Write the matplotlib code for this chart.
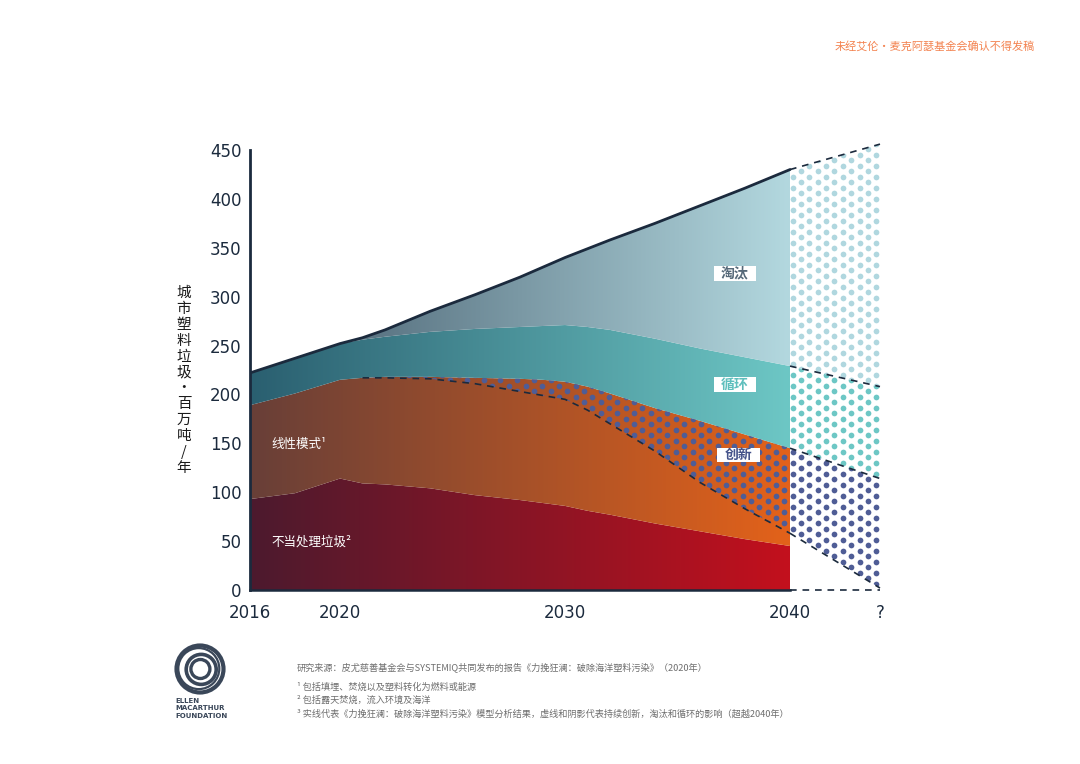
import numpy as np
import matplotlib.pyplot as plt
from matplotlib.colors import LinearSegmentedColormap
from matplotlib.path import Path
from matplotlib.patches import Circle, Rectangle

plt.rcParams['font.family'] = ['Noto Sans CJK SC', 'DejaVu Sans']

# values (million tonnes / year)
years = [2016, 2018, 2020, 2021, 2022, 2024, 2026, 2028, 2029, 2030, 2031, 2032, 2034, 2036, 2038, 2040]
mismanaged = [93, 99, 114, 109, 108, 104, 97, 92, 89, 86, 81, 77, 68, 60, 52, 45]
linear = [189, 201, 215, 217, 217, 216, 211, 203, 199, 195, 184, 170, 142, 110, 83, 58]
innovation = [189, 201, 215, 217, 218, 218, 217, 216, 215, 213, 208, 201, 186, 173, 159, 145]
recycle = [222, 237, 252, 256, 259, 264, 267, 269, 270, 271, 269, 266, 257, 247, 238, 229]
total = [222, 237, 252, 258, 266, 285, 302, 320, 330, 340, 349, 358, 375, 393, 411, 430]

# beyond 2040 (dashed projection)
ext_years = [2040, 2044]
ext_total = [430, 456]
ext_recycle = [229, 208]
ext_innovation = [145, 114]
ext_linear = [58, 2]

y_ticks = [0, 50, 100, 150, 200, 250, 300, 350, 400, 450]
x_ticks = [2016, 2020, 2030, 2040, 2044]
x_tick_labels = ['2016', '2020', '2030', '2040', '?']

navy = '#1b2a3d'
W, H = 1080, 764


def band(x, lo, hi):
    x = np.asarray(x, float)
    lo = np.broadcast_to(np.asarray(lo, float), x.shape)
    hi = np.broadcast_to(np.asarray(hi, float), x.shape)
    verts = np.concatenate([np.column_stack([x, hi]),
                            np.column_stack([x[::-1], lo[::-1]])])
    verts = np.vstack([verts, verts[:1]])
    return Path(verts, closed=True)


def px(x, y):
    return x / W, 1 - y / H


fig = plt.figure(figsize=(10.8, 7.64), dpi=100)
x_left, x_right = 2016, 2045
ax = fig.add_axes([250 / W, 1 - 590 / H, (x_right - x_left) * 22.5 / W, 440 / H])

# gradient filled layers
grad = np.linspace(0, 1, 256).reshape(1, -1)
layers = [
    (0, mismanaged, ['#4c1a2e', '#c3101d']),
    (mismanaged, innovation, ['#683f38', '#e3621a']),
    (innovation, recycle, ['#2a5f70', '#6dc7c5']),
    (recycle, total, ['#42596a', '#b3d8df']),
]
for lo, hi, cols in layers:
    cmap = LinearSegmentedColormap.from_list('g', cols)
    im = ax.imshow(grad, extent=[2016, 2040, 0, 460], aspect='auto',
                   cmap=cmap, origin='lower', zorder=1, interpolation='bicubic')
    im.set_clip_path(band(years, lo, hi), ax.transData)

# dot texture
dx, dy = 16.7 / 22.5, 5.5 / 0.978
gx, gy = [], []
for k in range(90):
    xs = np.arange(2016 + (k % 2) * dx / 2, 2045, dx)
    gx.append(xs)
    gy.append(np.full(xs.shape, k * dy + 1))
gx = np.concatenate(gx)
gy = np.concatenate(gy)

dots = [
    (band(years, linear, innovation), '#4f5d96'),
    (band(ext_years, ext_linear, ext_innovation), '#4f5d96'),
    (band(ext_years, ext_innovation, ext_recycle), '#6dc7c5'),
    (band(ext_years, ext_recycle, ext_total), '#b0d7df'),
]
for path, col in dots:
    sc = ax.scatter(gx, gy, s=17, c=col, linewidths=0, zorder=2)
    sc.set_clip_path(path, ax.transData)

# lines
ax.plot(years, total, color=navy, lw=2, zorder=5, solid_capstyle='round')
ax.plot(years[3:], linear[3:], color=navy, lw=1.2, dashes=(4, 3.5), zorder=5)
for ys in [ext_total, ext_recycle, ext_innovation, ext_linear, [0, 0]]:
    ax.plot(ext_years, ys, color=navy, lw=1.2, dashes=(4, 3.5), zorder=5, clip_on=False)
ax.plot([2016, 2040], [0, 0], color=navy, lw=1.8, zorder=5, clip_on=False)

ax.set_xlim(x_left, x_right)
ax.set_ylim(0, 450)
for s in ['top', 'right', 'bottom']:
    ax.spines[s].set_visible(False)
ax.spines['left'].set_color(navy)
ax.spines['left'].set_linewidth(2)
ax.set_yticks(y_ticks)
ax.set_xticks(x_ticks, x_tick_labels)
ax.tick_params(length=0, labelsize=12, colors=navy)
ax.tick_params(axis='x', pad=10)
ax.tick_params(axis='y', pad=6)
for lab in ax.get_xticklabels() + ax.get_yticklabels():
    lab.set_fontfamily('DejaVu Sans')
ax.patch.set_alpha(0)

# area labels
ax.text(2016.95, 149, '线性模式¹', color='white', fontsize=9, va='center', zorder=6)
ax.text(2016.95, 49, '不当处理垃圾²', color='white', fontsize=9, va='center', zorder=6)
for (cx, cy, txt, col) in [(2037.55, 324, '淘汰', '#566979'),
                           (2037.55, 210, '循环', '#5fbfbd'),
                           (2037.7, 138, '创新', '#45538a')]:
    ax.add_patch(Rectangle((cx - 0.95, cy - 7.6), 1.9, 15.2, fc='white', ec='none', zorder=6))
    ax.text(cx, cy, txt, color=col, fontsize=10, fontweight='bold',
            ha='center', va='center', zorder=7)

# vertical y label
ylab = '城市塑料垃圾·百万吨/年'
for i, ch in enumerate(ylab):
    fig.text(*px(184, 293 + i * 15.9), ch, fontsize=10.5, color='#1a1a1a',
             ha='center', va='center')

# watermark
fig.text(*px(1035, 46), '未经艾伦·麦克阿瑟基金会确认不得发稿', color='#f3824f',
         fontsize=8, ha='right', va='center')

# footnotes
notes = [
    (667, '研究来源：皮尤慈善基金会与SYSTEMIQ共同发布的报告《力挽狂澜：破除海洋塑料污染》（2020年）'),
    (687, '¹ 包括填埋、焚烧以及塑料转化为燃料或能源'),
    (700, '² 包括露天焚烧，流入环境及海洋'),
    (714, '³ 实线代表《力挽狂澜：破除海洋塑料污染》模型分析结果，虚线和阴影代表持续创新，淘汰和循环的影响（超越2040年）'),
]
for yy, t in notes:
    fig.text(*px(297, yy), t, color='#6e6e6e', fontsize=6.6, va='center')

# logo
logo_col = '#3a4759'
cx, cy = 200 / 100, (H - 669) / 100
for r, ox, oy, lw in [(0.235, 0, 0, 3.0), (0.205, -0.012, 0.004, 1.6),
                      (0.15, 0.012, -0.004, 2.6), (0.095, 0.004, 0.0, 2.4)]:
    fig.add_artist(Circle((cx + ox, cy + oy), r, transform=fig.dpi_scale_trans,
                          fill=False, ec=logo_col, lw=lw))
for i, t in enumerate(['ELLEN', 'MACARTHUR', 'FOUNDATION']):
    fig.text(*px(175, 701 + i * 7.3), t, color=logo_col, fontsize=5.0,
             fontweight='bold', family='DejaVu Sans', va='center')

fig.savefig('out.png', dpi=100)
